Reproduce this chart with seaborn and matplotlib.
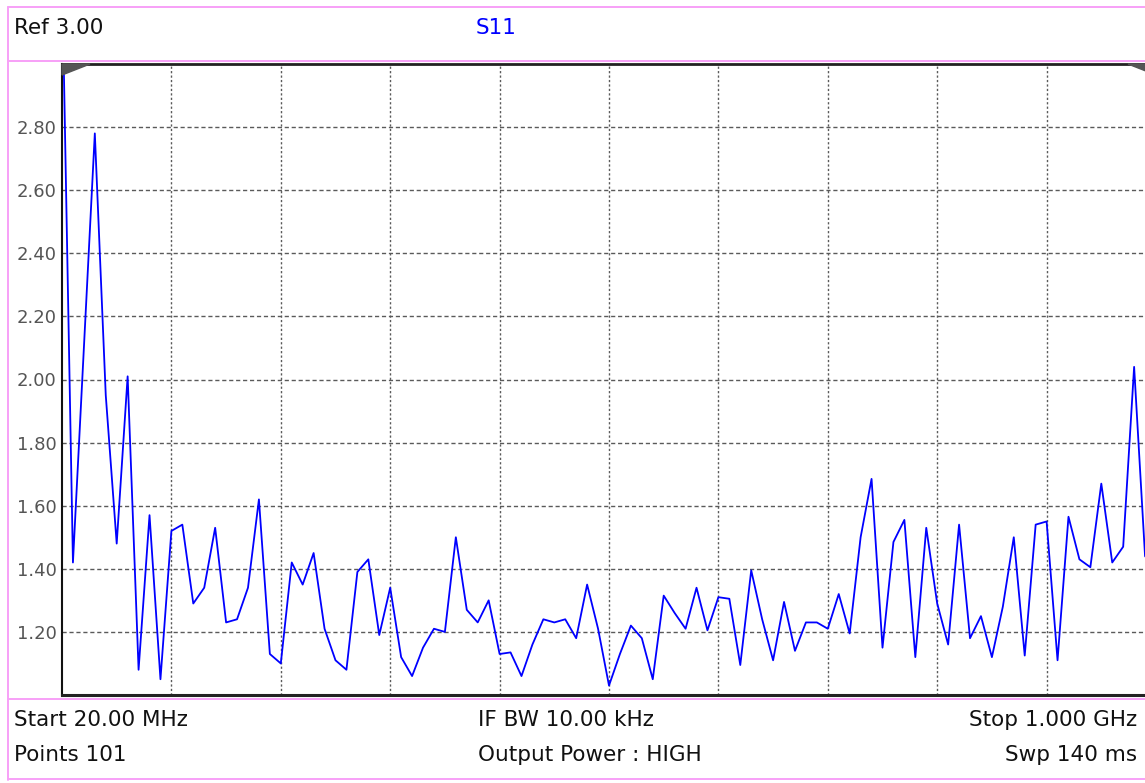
import numpy as np
import pandas as pd
import matplotlib
matplotlib.use("Agg")
import matplotlib.pyplot as plt
import seaborn as sns
from matplotlib.lines import Line2D
from matplotlib.patches import Polygon

# ---------------- data ----------------
start_mhz = 20.0
stop_mhz = 1000.0
n_points = 101

s11 = [3.30, 1.42, 2.10, 2.78, 1.95, 1.48, 2.01, 1.08, 1.57, 1.05,
       1.52, 1.54, 1.29, 1.34, 1.53, 1.23, 1.24, 1.34, 1.62, 1.13,
       1.10, 1.42, 1.35, 1.45, 1.21, 1.11, 1.08, 1.39, 1.43, 1.19,
       1.34, 1.12, 1.06, 1.15, 1.21, 1.20, 1.50, 1.27, 1.23, 1.30,
       1.13, 1.135, 1.06, 1.16, 1.24, 1.23, 1.24, 1.18, 1.35, 1.21,
       1.03, 1.13, 1.22, 1.18, 1.05, 1.315, 1.26, 1.21, 1.34, 1.205,
       1.31, 1.305, 1.095, 1.395, 1.24, 1.11, 1.295, 1.14, 1.23, 1.23,
       1.21, 1.32, 1.195, 1.50, 1.685, 1.15, 1.485, 1.555, 1.12, 1.53,
       1.29, 1.16, 1.54, 1.18, 1.25, 1.12, 1.28, 1.50, 1.125, 1.54,
       1.55, 1.11, 1.565, 1.43, 1.405, 1.67, 1.42, 1.47, 2.04, 1.44,
       1.40]

ytick_vals = [1.20, 1.40, 1.60, 1.80, 2.00, 2.20, 2.40, 2.60, 2.80]
y_min, y_ref = 1.0, 3.0
n_divisions = 10

header_left = "Ref 3.00"
trace_name = "S11"
footer_left = ["Start 20.00 MHz", "Points 101"]
footer_mid = ["IF BW 10.00 kHz", "Output Power : HIGH"]
footer_right = ["Stop 1.000 GHz", "Swp 140 ms"]

freq = np.linspace(start_mhz, stop_mhz, n_points)
grid_x = np.linspace(start_mhz, stop_mhz, n_divisions + 1)[1:-1]
df = pd.DataFrame({"freq": freq, "s11": s11})

# ---------------- style ----------------
sns.set_theme(style="white")
plt.rcParams["font.family"] = ["DejaVu Sans"]

W, H = 1145, 783
fig = plt.figure(figsize=(W / 100, H / 100), dpi=100)
fig.patch.set_facecolor("white")


def fx(x):
    return x / W


def fy(y):
    return 1 - y / H


L, R, T, B = 62, 1156, 64, 695
ax = fig.add_axes([fx(L), fy(B), (R - L) / W, (B - T) / H])
ax.set_facecolor("white")

grid_col = "#5a5a5a"
for yv in ytick_vals:
    ax.axhline(yv, color=grid_col, lw=1.0, ls=(0, (3, 2)), zorder=1)
for xv in grid_x:
    ax.axvline(xv, color=grid_col, lw=1.0, ls=(0, (1.6, 1.6)), zorder=1)

sns.lineplot(data=df, x="freq", y="s11", ax=ax, color="#0000ff", lw=1.3, zorder=3)

ax.set_xlim(start_mhz, stop_mhz)
ax.set_ylim(y_min, y_ref)
ax.set_xticks(grid_x)
ax.set_xticklabels([])
ax.set_yticks(ytick_vals)
ax.set_yticklabels([f"{v:.2f}" for v in ytick_vals])
ax.set_xlabel("")
ax.set_ylabel("")
ax.tick_params(axis="y", length=0, pad=4, labelsize=13, labelcolor="#555555")
ax.tick_params(axis="x", length=4, direction="out", color="#999999", width=1)

ax.spines["left"].set_color("#111111")
ax.spines["left"].set_linewidth(1.5)
ax.spines["bottom"].set_color("#222222")
ax.spines["bottom"].set_linewidth(2.2)
ax.spines["top"].set_color("#222222")
ax.spines["top"].set_linewidth(2.0)
ax.spines["right"].set_visible(False)

# reference level markers
tw, th = 28 / (R - L), 11 / (B - T)
ax.add_patch(Polygon([(0, 1), (tw, 1), (0, 1 - th)], closed=True,
                     transform=ax.transAxes, color="#555555", clip_on=False, zorder=5))
ax.add_patch(Polygon([(1, 1), (1 - tw, 1), (1, 1 - th)], closed=True,
                     transform=ax.transAxes, color="#555555", clip_on=False, zorder=5))

# pink frames
pink = "#f7a0f7"


def hline(y, x0, x1):
    fig.add_artist(Line2D([fx(x0), fx(x1)], [fy(y), fy(y)], color=pink, lw=1.4,
                          transform=fig.transFigure))


def vline(x, y0, y1):
    fig.add_artist(Line2D([fx(x), fx(x)], [fy(y0), fy(y1)], color=pink, lw=1.4,
                          transform=fig.transFigure))


vline(8, 7, 780)
hline(7, 8, W + 5)
hline(61, 8, W + 5)
hline(699, 8, W + 5)
hline(779, 8, W + 5)

fs = 15.5
fig.text(fx(14), fy(28), header_left, ha="left", va="center", fontsize=fs, color="#111111")
fig.text(fx(476), fy(28), trace_name, ha="left", va="center", fontsize=fs, color="#0000ff")

rows_y = [720, 755]
for i, yy in enumerate(rows_y):
    fig.text(fx(14), fy(yy), footer_left[i], ha="left", va="center", fontsize=fs, color="#111111")
    fig.text(fx(478), fy(yy), footer_mid[i], ha="left", va="center", fontsize=fs, color="#111111")
    fig.text(fx(1137), fy(yy), footer_right[i], ha="right", va="center", fontsize=fs, color="#111111")

fig.savefig("out.png", dpi=100)
